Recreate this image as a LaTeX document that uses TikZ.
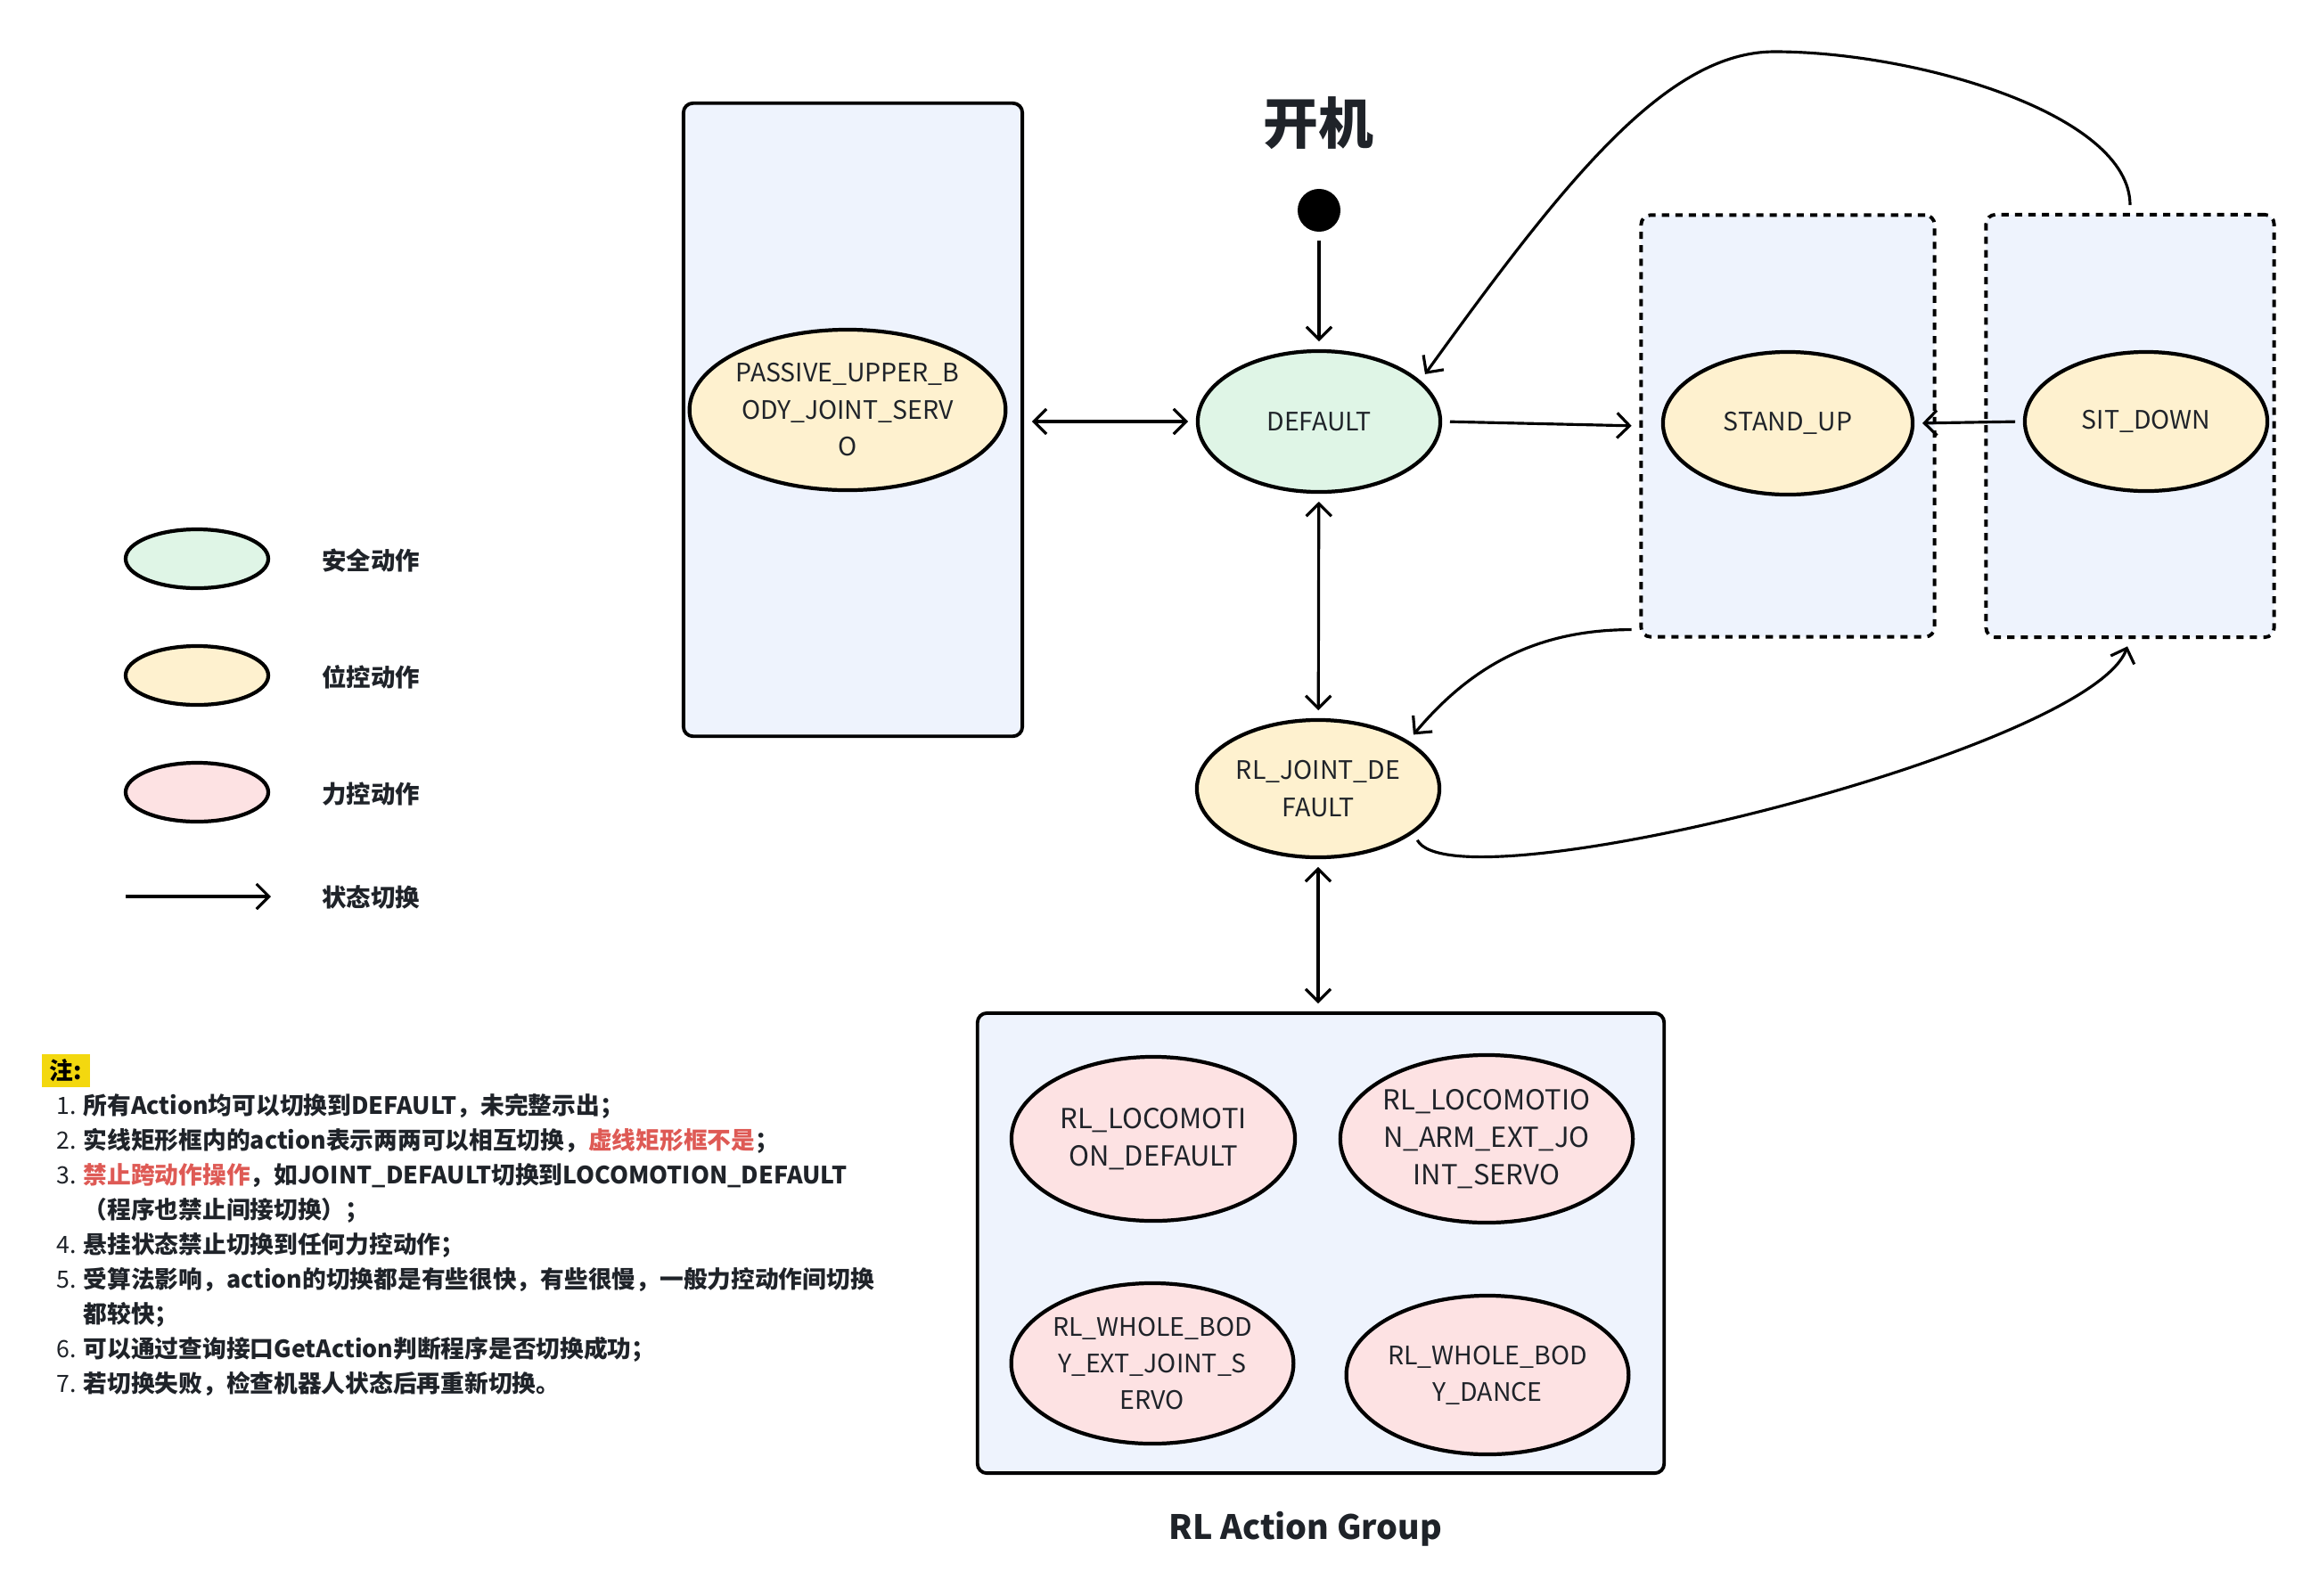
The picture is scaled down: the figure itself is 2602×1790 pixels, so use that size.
\documentclass[tikz,border=0pt]{standalone}
\usepackage{fontspec}
\setmainfont{Noto Sans CJK SC}
\usepackage{tikz}
\usetikzlibrary{shapes.geometric,arrows.meta}

\definecolor{safegreen}{HTML}{DFF5E6}
\definecolor{posyellow}{HTML}{FEF1CF}
\definecolor{forcepink}{HTML}{FDE2E3}
\definecolor{groupblue}{HTML}{EEF3FD}
\definecolor{textgray}{HTML}{1F2329}
\definecolor{notered}{HTML}{DE5A55}
\definecolor{notemark}{HTML}{F3D80F}

\begin{document}
\begin{tikzpicture}[x=0.01cm,y=0.01cm,
		every node/.style={text=textgray},
		>={Straight Barb[length=4pt,width=8pt]},
		act/.style={ellipse,draw=black,line width=1.2pt,inner sep=0pt,align=center,font=\fontsize{8.1pt}{11.8pt}\selectfont},
		rlact/.style={act,fill=forcepink,font=\fontsize{8.8pt}{12pt}\selectfont},
		wbact/.style={act,fill=forcepink,font=\fontsize{8.1pt}{11.6pt}\selectfont},
		grp/.style={rectangle,draw=black,line width=1.1pt,rounded corners=3pt,fill=groupblue},
		dashbox/.style={grp,dash pattern=on 2.3pt off 2pt},
		legtext/.style={anchor=west,font=\fontsize{7.8pt}{9pt}\selectfont\bfseries},
		conn/.style={line width=0.9pt,shorten >=2.5pt,shorten <=2.5pt}]
		\useasboundingbox (0,0) rectangle (2602,-1790);
		% Legende
		\node[act,fill=safegreen,minimum width=1.60cm,minimum height=0.66cm] (legsafe) at (221,-627) {};
		\node[act,fill=posyellow,minimum width=1.60cm,minimum height=0.66cm] (legpos) at (221,-758) {};
		\node[act,fill=forcepink,minimum width=1.60cm,minimum height=0.66cm] (legforce) at (221,-889) {};
		\node[legtext] (legsafetxt) at (349,-629) {安全动作};
		\node[legtext] (legpostxt) at (349,-760) {位控动作};
		\node[legtext] (legforcetxt) at (349,-891) {力控动作};
		\coordinate (legA) at (141,-1006);
		\coordinate (legB) at (304,-1006);
		\draw[->,line width=0.9pt] (legA) -- (legB);
		\node[legtext] (legarrowtxt) at (349,-1007) {状态切换};
		% Gruppen
		\node[grp,minimum width=3.80cm,minimum height=7.10cm] (passbox) at (957,-471) {};
		\node[dashbox,minimum width=3.29cm,minimum height=4.73cm] (standbox) at (2006,-478) {};
		\node[dashbox,minimum width=3.23cm,minimum height=4.74cm] (sitbox) at (2390,-478) {};
		\node[grp,minimum width=7.70cm,minimum height=5.16cm] (rlbox) at (1482,-1395) {};
		% Zustaende
		\node[font=\fontsize{17.6pt}{20pt}\selectfont\bfseries] (titel) at (1479,-138) {开机};
		\node[circle,fill=black,inner sep=0pt,minimum size=0.48cm] (start) at (1480,-236) {};
		\node[act,fill=safegreen,minimum width=2.72cm,minimum height=1.58cm] (default) at (1480,-473) {DEFAULT};
		\node[act,fill=posyellow,minimum width=3.54cm,minimum height=1.80cm] (passive) at (951,-460) {PASSIVE\_UPPER\_B\\ODY\_JOINT\_SERV\\O};
		\node[act,fill=posyellow,minimum width=2.80cm,minimum height=1.60cm] (standup) at (2006,-475) {STAND\_UP};
		\node[act,fill=posyellow,minimum width=2.72cm,minimum height=1.56cm] (sitdown) at (2408,-473) {SIT\_DOWN};
		\node[act,fill=posyellow,minimum width=2.72cm,minimum height=1.54cm] (jointdef) at (1479,-885) {RL\_JOINT\_DE\\FAULT};
		\node[rlact,minimum width=3.18cm,minimum height=1.84cm] (loco) at (1294,-1278) {RL\_LOCOMOTI\\ON\_DEFAULT};
		\node[rlact,minimum width=3.28cm,minimum height=1.88cm] (locoarm) at (1668,-1278) {RL\_LOCOMOTIO\\N\_ARM\_EXT\_JO\\INT\_SERVO};
		\node[wbact,minimum width=3.12cm,minimum height=1.80cm] (wbext) at (1293,-1530) {RL\_WHOLE\_BOD\\Y\_EXT\_JOINT\_S\\ERVO};
		\node[wbact,minimum width=3.14cm,minimum height=1.78cm] (wbdance) at (1669,-1543) {RL\_WHOLE\_BOD\\Y\_DANCE};
		\node[font=\fontsize{10.7pt}{12pt}\selectfont\bfseries] (rltitel) at (1465,-1716) {RL Action Group};
		% Pfeile
		\draw[conn,->] (start) -- (default);
		\draw[conn,<->] (passbox.east |- default.west) -- (default.west);
		\draw[conn,->] (default.east) -- (standbox.west);
		\draw[conn,->] (sitdown.west) -- (standup.east);
		\coordinate (bogen) at (1991,-58);
		\draw[conn,->] (sitbox.north) .. controls +(0,111) and +(159,0) .. (bogen)
			.. controls +(-121,0) and +(162,225) .. (default.22);
		\draw[conn,<->] (default) -- (jointdef);
		\draw[conn,->] ([yshift=0.10cm]standbox.south west) to[out=180,in=50] (jointdef.28);
		\draw[conn,->] (jointdef.-25) .. controls +(45,-85) and +(-45,-125) .. (sitbox.south);
		\draw[conn,<->] (jointdef) -- (jointdef |- rlbox.north);
		% Hinweise
		\node[fill=notemark,inner sep=0pt,minimum width=0.53cm,minimum height=0.37cm,text=black,font=\fontsize{7.6pt}{9pt}\selectfont\bfseries] (hinweis) at (74,-1201) {注:};
		\node[anchor=west,inner sep=0pt,font=\fontsize{7.6pt}{11.1pt}\selectfont] (notizen) at (63,-1399) {\begin{tabular}{@{}p{0.30cm}@{}l@{}}
			1. & \textbf{所有Action均可以切换到DEFAULT，未完整示出；}\\
			2. & \textbf{实线矩形框内的action表示两两可以相互切换，\textcolor{notered}{虚线矩形框不是}；}\\
			3. & \textbf{\textcolor{notered}{禁止跨动作操作}，如JOINT\_DEFAULT切换到LOCOMOTION\_DEFAULT}\\
			 & \textbf{（程序也禁止间接切换）；}\\
			4. & \textbf{悬挂状态禁止切换到任何力控动作；}\\
			5. & \textbf{受算法影响，action的切换都是有些很快，有些很慢，一般力控动作间切换}\\
			 & \textbf{都较快；}\\
			6. & \textbf{可以通过查询接口GetAction判断程序是否切换成功；}\\
			7. & \textbf{若切换失败，检查机器人状态后再重新切换。}
		\end{tabular}};
	\end{tikzpicture}
\end{document}
